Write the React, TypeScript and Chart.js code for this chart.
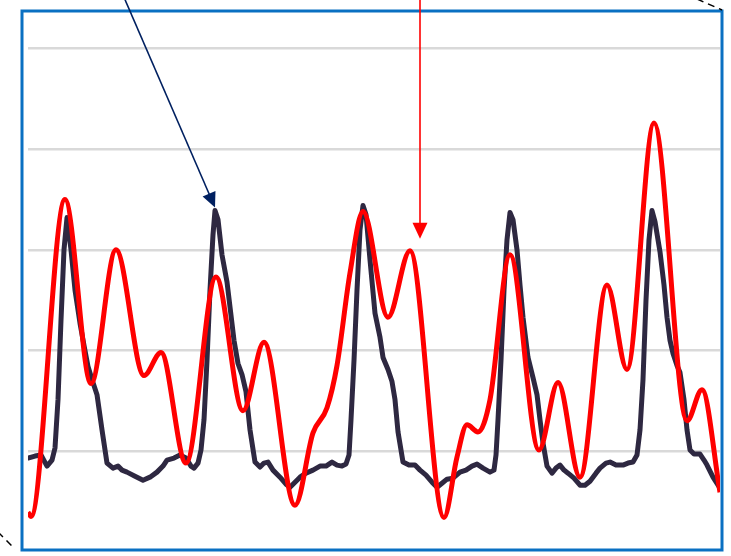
import React, { useEffect, useRef } from "react";
import { Chart, registerables } from "chart.js";

Chart.register(...registerables);

// Time axis in samples, values in arbitrary signal units (gridlines at 1..5)
const ecgTime = [
  0, 7, 13, 19, 24, 27, 30, 33, 36, 39,
  43, 47, 52, 56, 60, 64, 69, 74, 79, 85,
  90, 94, 99, 107, 115, 122, 129, 135, 139, 146,
  152, 158, 163, 166, 170, 173, 176, 179, 182, 185,
  187, 190, 194, 199, 203, 206, 210, 214, 218, 222,
  227, 232, 236, 240, 245, 252, 258, 262, 267, 272,
  278, 285, 292, 298, 304, 309, 314, 318, 321, 323,
  326, 329, 332, 335, 338, 342, 347, 352, 355, 360,
  364, 367, 370, 375, 381, 387, 392, 398, 404, 409,
  414, 419, 425, 432, 438, 444, 449, 455, 462, 466,
  468, 470, 473, 476, 479, 482, 485, 489, 492, 495,
  500, 505, 509, 512, 515, 519, 524, 528, 532, 536,
  540, 546, 552, 557, 562, 568, 572, 578, 582, 588,
  595, 600, 605, 609, 612, 615, 618, 621, 624, 627,
  632, 636, 639, 642, 645, 649, 652, 656, 659, 662,
  666, 672, 676, 679, 685, 692,
];
const ecgValue = [
  0.93, 0.95, 0.96, 0.85, 0.91, 1.03, 1.51, 2.3, 3.0, 3.32,
  3.0, 2.6, 2.27, 2.05, 1.84, 1.71, 1.56, 1.21, 0.88, 0.83,
  0.85, 0.81, 0.79, 0.75, 0.71, 0.74, 0.79, 0.85, 0.91, 0.93,
  0.96, 0.93, 0.85, 0.83, 0.88, 1.01, 1.31, 1.9, 2.6, 3.15,
  3.39, 3.3, 2.95, 2.68, 2.35, 2.1, 1.87, 1.76, 1.59, 1.21,
  0.89, 0.84, 0.88, 0.89, 0.81, 0.74, 0.67, 0.64, 0.69, 0.74,
  0.78, 0.81, 0.85, 0.85, 0.89, 0.86, 0.85, 0.87, 0.96, 1.31,
  1.9, 2.6, 3.2, 3.44, 3.35, 2.9, 2.37, 2.13, 1.93, 1.81,
  1.69, 1.51, 1.19, 0.89, 0.86, 0.86, 0.81, 0.76, 0.69, 0.64,
  0.68, 0.72, 0.73, 0.79, 0.81, 0.85, 0.87, 0.83, 0.79, 0.81,
  0.96, 1.31, 1.9, 2.6, 3.1, 3.37, 3.3, 3.0, 2.65, 2.33,
  1.93, 1.73, 1.56, 1.31, 1.08, 0.85, 0.78, 0.83, 0.86, 0.81,
  0.78, 0.73, 0.66, 0.66, 0.7, 0.78, 0.83, 0.88, 0.89, 0.86,
  0.86, 0.88, 0.89, 0.96, 1.21, 1.71, 2.5, 3.1, 3.39, 3.28,
  2.98, 2.65, 2.33, 2.1, 1.97, 1.85, 1.78, 1.51, 1.21, 1.01,
  0.97, 0.97, 0.91, 0.86, 0.74, 0.63,
];

const waveTime = [
  0, 3, 37, 63, 88, 116, 133, 158, 188, 215,
  236, 267, 285, 299, 309, 322, 335, 360, 382, 416,
  429, 439, 450, 462, 482, 511, 530, 552, 579, 599,
  626, 659, 674, 692,
];
const waveValue = [
  0.39, 0.35, 3.5, 1.67, 3.0, 1.75, 1.98, 0.88, 2.73, 1.4,
  2.08, 0.46, 1.18, 1.43, 1.85, 2.77, 3.38, 2.33, 2.99, 0.34,
  0.94, 1.26, 1.19, 1.51, 2.95, 1.01, 1.68, 0.74, 2.65, 1.81,
  4.26, 1.3, 1.61, 0.59,
];

const gridValues = [1, 2, 3, 4, 5];
// annotated points (sample, value)
const darkArrowAt = [187, 3.39];
const redArrowAt = [392, 2.99];

function drawArrowHead(ctx: CanvasRenderingContext2D, x0: number, y0: number, x1: number, y1: number, len: number, half: number, color: string) {
  const dx = x1 - x0, dy = y1 - y0;
  const L = Math.hypot(dx, dy);
  const ux = dx / L, uy = dy / L;
  const bx = x1 - ux * len, by = y1 - uy * len;
  ctx.beginPath();
  ctx.moveTo(x1, y1);
  ctx.lineTo(bx - uy * half, by + ux * half);
  ctx.lineTo(bx + uy * half, by - ux * half);
  ctx.closePath();
  ctx.fillStyle = color;
  ctx.fill();
}

const overlayPlugin = {
  id: "overlay",
  afterDraw(chart: any) {
    const { ctx, scales } = chart;
    const xs = scales.x, ys = scales.y;
    ctx.save();
    // frame
    ctx.strokeStyle = "#0a70c2";
    ctx.lineWidth = 3;
    ctx.strokeRect(22, 11, 700, 539);
    // dashed callout lines
    ctx.strokeStyle = "#000";
    ctx.lineWidth = 1.5;
    ctx.setLineDash([7, 5]);
    ctx.beginPath();
    ctx.moveTo(697, -1);
    ctx.lineTo(722, 10);
    ctx.stroke();
    ctx.beginPath();
    ctx.moveTo(-2, 532);
    ctx.lineTo(15, 549);
    ctx.stroke();
    ctx.setLineDash([]);
    // navy arrow
    const nx = xs.getPixelForValue(darkArrowAt[0]);
    const ny = ys.getPixelForValue(darkArrowAt[1]) - 3;
    const sx = nx - 92, sy = -5;
    const len1 = 15;
    const L1 = Math.hypot(nx - sx, ny - sy);
    ctx.strokeStyle = "#002060";
    ctx.lineWidth = 1.6;
    ctx.beginPath();
    ctx.moveTo(sx, sy);
    ctx.lineTo(nx - ((nx - sx) / L1) * len1 * 0.8, ny - ((ny - sy) / L1) * len1 * 0.8);
    ctx.stroke();
    drawArrowHead(ctx, sx, sy, nx, ny, len1, 7, "#002060");
    // red arrow
    const rx = xs.getPixelForValue(redArrowAt[0]);
    const ry = ys.getPixelForValue(redArrowAt[1]) - 12;
    ctx.strokeStyle = "#ff0000";
    ctx.lineWidth = 1.6;
    ctx.beginPath();
    ctx.moveTo(rx, -2);
    ctx.lineTo(rx, ry - 12);
    ctx.stroke();
    drawArrowHead(ctx, rx, -2, rx, ry, 16, 7.5, "#ff0000");
    ctx.restore();
  },
};

export default function App() {
  const ref = useRef<HTMLCanvasElement | null>(null);
  useEffect(() => {
    if (!ref.current) return;
    const chart = new Chart(ref.current, {
      type: "line",
      data: {
        datasets: [
          {
            label: "wave",
            data: waveTime.map((t, i) => ({ x: t, y: waveValue[i] })),
            borderColor: "#ff0000",
            borderWidth: 5,
            pointRadius: 0,
            cubicInterpolationMode: "monotone",
            fill: false,
          },
          {
            label: "ecg",
            data: ecgTime.map((t, i) => ({ x: t, y: ecgValue[i] })),
            borderColor: "#2e2841",
            borderWidth: 5,
            pointRadius: 0,
            tension: 0,
            borderJoinStyle: "round",
            borderCapStyle: "round",
            fill: false,
          },
        ],
      } as any,
      options: {
        animation: false,
        responsive: false,
        devicePixelRatio: 1,
        events: [],
        layout: { padding: { left: 28, right: 11, top: 8.36, bottom: 4.4 } },
        plugins: { legend: { display: false }, tooltip: { enabled: false } },
        scales: {
          x: { type: "linear", min: 0, max: 692, display: false },
          y: {
            min: 0,
            max: 5.4,
            ticks: { display: false, stepSize: 1 },
            border: { display: false },
            grid: {
              drawTicks: false,
              lineWidth: 2.5,
              color: (c: any) => (gridValues.includes(c.tick?.value) ? "#d9d9d9" : "rgba(0,0,0,0)"),
            },
            afterFit: (s: any) => {
              s.width = 0;
            },
          },
        },
      } as any,
      plugins: [overlayPlugin],
    });
    return () => chart.destroy();
  }, []);
  return (
    <div style={{ position: "fixed", left: 0, top: 0, width: 731, height: 556, background: "#fff" }}>
      <canvas ref={ref} width={731} height={556} style={{ display: "block" }} />
    </div>
  );
}
